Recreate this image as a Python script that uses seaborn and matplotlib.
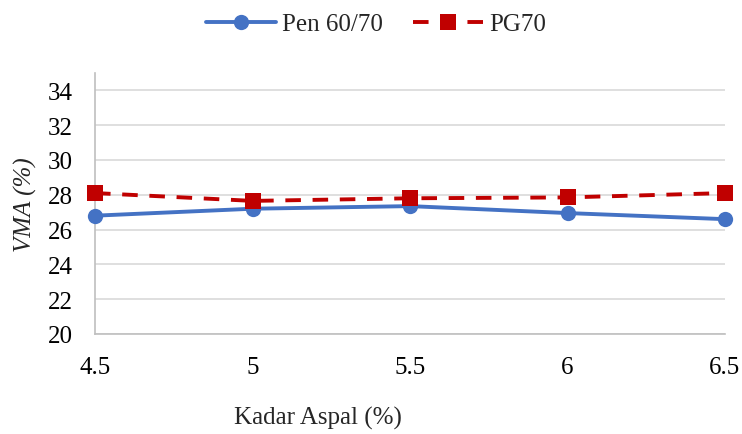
import matplotlib
matplotlib.use("Agg")
import matplotlib.pyplot as plt
from matplotlib.lines import Line2D
import seaborn as sns
import pandas as pd

# Asphalt content (%) and VMA (%) for two binders
kadar_aspal = [4.5, 5.0, 5.5, 6.0, 6.5]
vma_pen6070 = [26.8, 27.2, 27.35, 26.95, 26.6]
vma_pg70 = [28.1, 27.65, 27.8, 27.85, 28.1]
x_ticks = [4.5, 5, 5.5, 6, 6.5]
x_tick_labels = ["4.5", "5", "5.5", "6", "6.5"]
y_ticks = [20, 22, 24, 26, 28, 30, 32, 34]
series_names = ["Pen 60/70", "PG70"]

sns.set_theme(style="white")
plt.rcParams["font.family"] = ["Liberation Serif", "DejaVu Serif"]

df = pd.DataFrame({
    "Kadar Aspal": kadar_aspal * 2,
    "VMA": vma_pen6070 + vma_pg70,
    "Binder": [series_names[0]] * len(kadar_aspal) + [series_names[1]] * len(kadar_aspal),
})

BLUE = "#4472C4"
RED = "#C00000"
DASH = (4.0, 3.0)
FS = 18
LW = 2.8

fig = plt.figure(figsize=(7.42, 4.35), dpi=100)
ax = fig.add_axes([95 / 742, 1 - 335 / 435, 630 / 742, (335 - 74) / 435])

sns.lineplot(data=df, x="Kadar Aspal", y="VMA", hue="Binder", style="Binder",
             palette={series_names[0]: BLUE, series_names[1]: RED},
             markers={series_names[0]: "o", series_names[1]: "s"},
             dashes={series_names[0]: "", series_names[1]: DASH},
             linewidth=LW, markersize=11, markeredgewidth=0,
             ax=ax, legend=False, zorder=3, clip_on=False)

ax.set_xlim(4.5, 6.5)
ax.set_ylim(20, 35)
ax.set_xticks(x_ticks)
ax.set_xticklabels(x_tick_labels)
ax.set_yticks(y_ticks)
ax.tick_params(axis="both", length=0, labelsize=FS, colors="#000000")
ax.tick_params(axis="x", pad=16)
ax.tick_params(axis="y", pad=16)
ax.yaxis.grid(True, color="#d9d9d9", linewidth=1.2)
ax.xaxis.grid(False)
for side in ("top", "right"):
    ax.spines[side].set_visible(False)
for side in ("left", "bottom"):
    ax.spines[side].set_color("#bfbfbf")
    ax.spines[side].set_linewidth(1.2)
ax.set_xlabel("")
ax.set_ylabel("")

fig.text(25 / 742, 1 - 205 / 435, "VMA (%)", rotation=90, ha="center",
         va="center", fontsize=FS, fontstyle="italic")
fig.text(318 / 742, 1 - 418 / 435, "Kadar Aspal (%)", ha="center",
         va="center", fontsize=FS)

handles = [
    Line2D([], [], color=BLUE, linewidth=LW, marker="o", markersize=11,
           markeredgewidth=0),
    Line2D([], [], color=RED, linewidth=LW, marker="s", markersize=11,
           markeredgewidth=0, linestyle=(0, DASH)),
]
fig.legend(handles, series_names, loc="center", ncol=2,
           bbox_to_anchor=(376 / 742, 1 - 25 / 435), frameon=False,
           fontsize=FS, handlelength=2.8, columnspacing=1.2,
           handletextpad=0.25)

fig.savefig("out.png", dpi=100)
